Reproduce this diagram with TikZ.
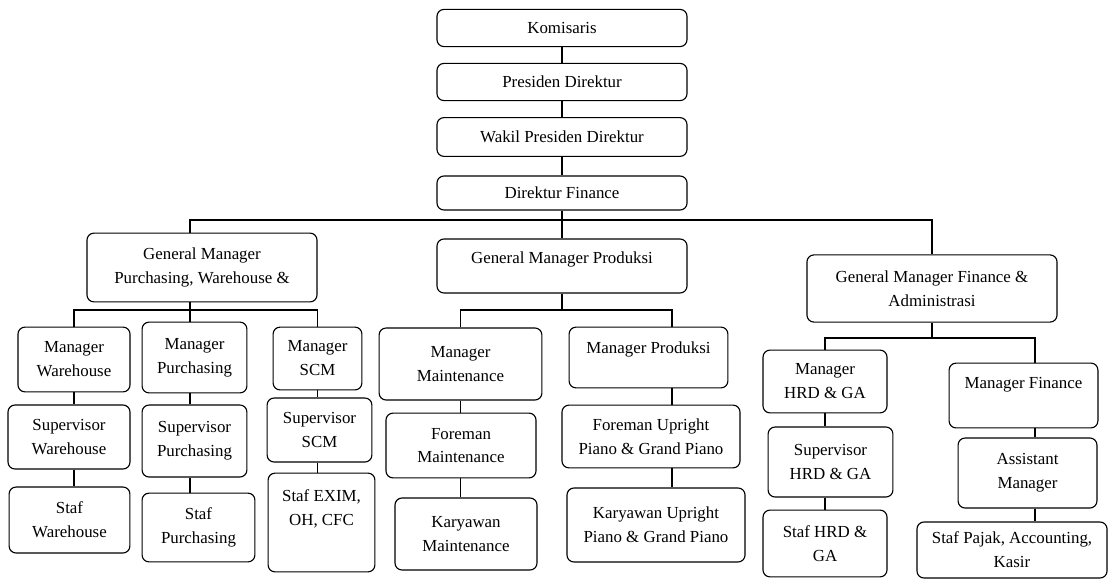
\documentclass[tikz,border=0pt]{standalone}
\usepackage{fontspec}
\setmainfont{Liberation Serif}
\usetikzlibrary{positioning}

\begin{document}
\begin{tikzpicture}[
        x=0.025cm, y=-0.025cm,
        box/.style={draw, fill=white, rounded corners=5pt, line width=0.8pt, align=center, inner sep=2pt, font=\fontsize{12}{17}\selectfont},
        link/.style={line width=0.8pt}
    ]
        \useasboundingbox (0,0) rectangle (1108,580);

        % Direksi
        \node[box, minimum width=6.25cm, minimum height=0.93cm] (kom) at (562,28) {Komisaris};
        \node[box, minimum width=6.25cm, minimum height=0.93cm] (pres) at (562,82) {Presiden Direktur};
        \node[box, minimum width=6.25cm, minimum height=0.97cm] (wpres) at (562,137) {Wakil Presiden Direktur};
        \node[box, minimum width=6.25cm, minimum height=0.85cm] (dirfin) at (562,193) {Direktur Finance};
        \draw[link] (kom) -- (pres); \draw[link] (pres) -- (wpres); \draw[link] (wpres) -- (dirfin);

        % General Manager
        \node[box, minimum width=5.75cm, minimum height=1.72cm] (gmpw) at (202,267.5) {General Manager\\Purchasing, Warehouse \&};
        \node[box, minimum width=6.25cm, minimum height=1.35cm, text depth=0.4cm] (gmprod) at (562,266) {General Manager Produksi};
        \node[box, minimum width=6.25cm, minimum height=1.68cm] (gmfa) at (932,288.5) {General Manager Finance \&\\Administrasi};
        \coordinate (xpw) at (190,220);
        \coordinate (xfa) at (932,220);
        \draw[link] (dirfin.south) -- (dirfin.south |- xpw);
        \draw[link] (gmpw.north -| xpw) -- (xpw) -- (xfa) -- (gmfa.north);
        \draw[link] (gmprod.north) -- (gmprod.north |- xpw);

        % Purchasing, Warehouse
        \node[box, minimum width=2.8cm, minimum height=1.62cm] (mwh) at (74,359.5) {Manager\\Warehouse};
        \node[box, minimum width=2.62cm, minimum height=1.77cm] (mpur) at (194.5,357.5) {Manager\\Purchasing};
        \node[box, minimum width=2.22cm, minimum height=1.57cm] (mscm) at (317.5,358.5) {Manager\\SCM};
        \node[box, minimum width=3.05cm, minimum height=1.6cm] (swh) at (69,437) {Supervisor\\Warehouse};
        \node[box, minimum width=2.62cm, minimum height=1.8cm] (spur) at (194.5,441) {Supervisor\\Purchasing};
        \node[box, minimum width=2.62cm, minimum height=1.6cm] (sscm) at (319.5,430) {Supervisor\\SCM};
        \node[box, minimum width=3.02cm, minimum height=1.65cm] (stwh) at (69.5,520) {Staf\\Warehouse};
        \node[box, minimum width=2.82cm, minimum height=1.72cm] (stpur) at (198.5,527.5) {Staf\\Purchasing};
        \node[box, minimum width=2.67cm, minimum height=2.47cm, text depth=0.75cm] (stexim) at (321.5,522.5) {Staf EXIM,\\OH, CFC};
        \coordinate (bpw) at (190,310);
        \draw[link] (gmpw.south -| bpw) -- (bpw);
        \draw[link] (mwh.north) |- (bpw) -| (mscm.north);
        \draw[link] (bpw) -- (mpur.north -| bpw);
        \draw[link] (mwh.south) -- (mwh.south |- swh.north);
        \draw[link] (swh.south -| mwh) -- (stwh.north -| mwh);
        \draw[link] (mpur.south -| bpw) -- (spur.north -| bpw);
        \draw[link] (spur.south -| bpw) -- (stpur.north -| bpw);
        \draw[link] (mscm.south) -- (mscm.south |- sscm.north);
        \draw[link] (sscm.south -| mscm) -- (stexim.north -| mscm);

        % Produksi
        \node[box, minimum width=4.07cm, minimum height=1.8cm] (mmt) at (460.5,364) {Manager\\Maintenance};
        \node[box, minimum width=3.97cm, minimum height=1.52cm, text depth=0.5cm] (mprod) at (648.5,357.5) {Manager Produksi};
        \node[box, minimum width=3.75cm, minimum height=1.62cm] (fmt) at (461,445.5) {Foreman\\Maintenance};
        \node[box, minimum width=4.45cm, minimum height=1.57cm] (fup) at (651,436.5) {Foreman Upright\\Piano \& Grand Piano};
        \node[box, minimum width=3.55cm, minimum height=1.8cm] (kmt) at (466,534) {Karyawan\\Maintenance};
        \node[box, minimum width=4.45cm, minimum height=1.85cm] (kup) at (656,525) {Karyawan Upright\\Piano \& Grand Piano};
        \coordinate (bprod) at (672,310);
        \draw[link] (gmprod.south) -- (gmprod.south |- bprod);
        \draw[link] (mmt.north) |- (bprod) -- (mprod.north -| bprod);
        \draw[link] (mmt.south) -- (mmt.south |- fmt.north);
        \draw[link] (fmt.south -| mmt) -- (kmt.north -| mmt);
        \draw[link] (mprod.south -| bprod) -- (fup.north -| bprod);
        \draw[link] (fup.south -| bprod) -- (kup.north -| bprod);

        % Finance & Administrasi
        \node[box, minimum width=3.1cm, minimum height=1.57cm] (mhrd) at (825,381.5) {Manager\\HRD \& GA};
        \node[box, minimum width=3.72cm, minimum height=1.62cm, text depth=0.62cm] (mfin) at (1023.5,395.5) {Manager Finance};
        \node[box, minimum width=3.12cm, minimum height=1.75cm] (shrd) at (830.5,462) {Supervisor\\HRD \& GA};
        \node[box, minimum width=3.47cm, minimum height=1.75cm] (asm) at (1027.5,473) {Assistant\\Manager};
        \node[box, minimum width=3.1cm, minimum height=1.67cm] (sthrd) at (825,543.5) {Staf HRD \&\\GA};
        \node[box, minimum width=4.75cm, minimum height=1.4cm] (stpj) at (1012,550) {Staf Pajak, Accounting,\\Kasir};
        \coordinate (bfa) at (1035,338);
        \draw[link] (gmfa.south) -- (gmfa.south |- bfa);
        \draw[link] (mhrd.north) |- (bfa) -- (mfin.north -| bfa);
        \draw[link] (mhrd.south) -- (mhrd.south |- shrd.north);
        \draw[link] (shrd.south -| mhrd) -- (sthrd.north -| mhrd);
        \draw[link] (mfin.south -| bfa) -- (asm.north -| bfa);
        \draw[link] (asm.south -| bfa) -- (stpj.north -| bfa);
    \end{tikzpicture}
\end{document}
